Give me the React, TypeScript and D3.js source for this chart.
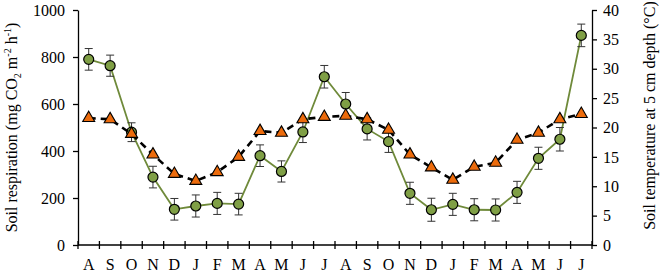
import React, { useEffect, useRef } from 'react';
import * as d3 from 'd3';

const months = ['A', 'S', 'O', 'N', 'D', 'J', 'F', 'M', 'A', 'M', 'J', 'J',
  'A', 'S', 'O', 'N', 'D', 'J', 'F', 'M', 'A', 'M', 'J', 'J'];
const respiration = [790, 763, 480, 289, 152, 166, 177, 174, 380, 313, 481, 716,
  600, 494, 440, 220, 150, 173, 150, 149, 224, 369, 450, 892];
const respirationErr = [46, 45, 40, 46, 46, 47, 47, 46, 46, 45, 45, 48,
  49, 47, 46, 47, 49, 47, 47, 47, 47, 47, 50, 48];
const temperature = [21.6, 21.4, 18.9, 15.4, 12.1, 10.9, 12.4, 15.0, 19.4, 19.1, 21.4, 21.8,
  22.0, 21.4, 19.6, 15.4, 13.2, 11.1, 13.3, 14.0, 17.9, 19.1, 21.4, 22.3];
const leftTicks = [0, 200, 400, 600, 800, 1000];
const rightTicks = [0, 5, 10, 15, 20, 25, 30, 35, 40];

const App = () => {
  const chartRef = useRef<SVGSVGElement>(null);

  useEffect(() => {
    const svg = d3.select(chartRef.current);
    svg.selectAll('*').remove();

    const width = 661;
    const height = 275;
    const margin = { top: 10, right: 69, bottom: 30, left: 78 };
    const font = '"Liberation Serif", "Times New Roman", serif';

    const idx = months.map((_, i) => i);
    const x = d3.scaleBand<number>()
      .domain(idx)
      .range([margin.left, width - margin.right])
      .padding(0);
    const cx = (i: number) => (x(i) as number) + x.bandwidth() / 2;

    const y = d3.scaleLinear().domain([0, 1000]).range([height - margin.bottom, margin.top]);
    const y2 = d3.scaleLinear().domain([0, 40]).range([height - margin.bottom, margin.top]);

    // left axis
    const gl = svg.append('g')
      .attr('transform', `translate(${margin.left},0)`)
      .call(d3.axisLeft(y).tickValues(leftTicks).tickFormat(d3.format('d'))
        .tickSize(5).tickSizeOuter(0).tickPadding(8));
    // right axis
    const gr = svg.append('g')
      .attr('transform', `translate(${width - margin.right},0)`)
      .call(d3.axisRight(y2).tickValues(rightTicks).tickFormat(d3.format('d'))
        .tickSize(5).tickSizeOuter(0).tickPadding(6));

    // bottom axis: line + crossing ticks at band edges
    const gb = svg.append('g');
    gb.append('line')
      .attr('x1', margin.left).attr('x2', width - margin.right)
      .attr('y1', y(0)).attr('y2', y(0))
      .attr('stroke', 'black').attr('stroke-width', 1.3);
    const edges = d3.range(months.length + 1).map(i => margin.left + i * x.bandwidth());
    gb.selectAll('line.tk').data(edges).join('line')
      .attr('class', 'tk')
      .attr('x1', d => d).attr('x2', d => d)
      .attr('y1', y(0) - 4).attr('y2', y(0) + 4)
      .attr('stroke', 'black').attr('stroke-width', 1.3);
    gb.selectAll('text').data(idx).join('text')
      .attr('x', d => cx(d))
      .attr('y', height - 5)
      .attr('text-anchor', 'middle')
      .attr('font-family', font)
      .attr('font-size', 16)
      .text(d => months[d]);

    [gl, gr].forEach(g => {
      g.selectAll('.domain').attr('stroke-width', 1.3);
      g.selectAll('.tick line').attr('stroke-width', 1.3);
      g.selectAll('text').attr('font-family', font).attr('font-size', 16).attr('fill', 'black');
    });

    // axis titles
    const lt = svg.append('text')
      .attr('transform', `translate(17,${(y(0) + y(1000)) / 2}) rotate(-90)`)
      .attr('text-anchor', 'middle')
      .attr('font-family', font)
      .attr('font-size', 16);
    lt.append('tspan').text('Soil respiration (mg CO');
    lt.append('tspan').text('2').attr('font-size', 10).attr('dy', 4);
    lt.append('tspan').text(' m').attr('dy', -4);
    lt.append('tspan').text('-2').attr('font-size', 10).attr('dy', -6);
    lt.append('tspan').text(' h').attr('dy', 6);
    lt.append('tspan').text('-1').attr('font-size', 10).attr('dy', -6);
    lt.append('tspan').text(')').attr('dy', 6);

    svg.append('text')
      .attr('transform', `translate(655,${(y(0) + y(1000)) / 2 - 12}) rotate(-90)`)
      .attr('text-anchor', 'middle')
      .attr('font-family', font)
      .attr('font-size', 16)
      .text('Soil temperature at 5 cm depth (°C)');

    // respiration series
    const line = d3.line<number>().x(i => cx(i)).y(i => y(respiration[i]));
    svg.append('path')
      .datum(idx)
      .attr('fill', 'none')
      .attr('stroke', '#6f8a3a')
      .attr('stroke-width', 1.8)
      .attr('d', line);

    const eb = svg.append('g').attr('stroke', '#333').attr('stroke-width', 1);
    idx.forEach(i => {
      const top = y(respiration[i] + respirationErr[i]);
      const bot = y(respiration[i] - respirationErr[i]);
      eb.append('line').attr('x1', cx(i)).attr('x2', cx(i)).attr('y1', top).attr('y2', bot);
      eb.append('line').attr('x1', cx(i) - 4).attr('x2', cx(i) + 4).attr('y1', top).attr('y2', top);
      eb.append('line').attr('x1', cx(i) - 4).attr('x2', cx(i) + 4).attr('y1', bot).attr('y2', bot);
    });

    svg.append('g').selectAll('circle').data(idx).join('circle')
      .attr('cx', d => cx(d))
      .attr('cy', d => y(respiration[d]))
      .attr('r', 5)
      .attr('fill', '#7f9f45')
      .attr('stroke', 'black')
      .attr('stroke-width', 1.2);

    // temperature series
    const line2 = d3.line<number>().x(i => cx(i)).y(i => y2(temperature[i]));
    svg.append('path')
      .datum(idx)
      .attr('fill', 'none')
      .attr('stroke', 'black')
      .attr('stroke-width', 2.6)
      .attr('stroke-dasharray', '7,5')
      .attr('d', line2);

    const tri = d3.symbol().type(d3.symbolTriangle).size(62);
    svg.append('g').selectAll('path').data(idx).join('path')
      .attr('transform', d => `translate(${cx(d)},${y2(temperature[d])})`)
      .attr('d', tri)
      .attr('fill', '#ec6b0c')
      .attr('stroke', 'black')
      .attr('stroke-width', 1.1);
  }, []);

  return <svg ref={chartRef} width="661" height="275" style={{ display: 'block', position: 'absolute', left: 0, top: 0 }}></svg>;
};

export default App;
